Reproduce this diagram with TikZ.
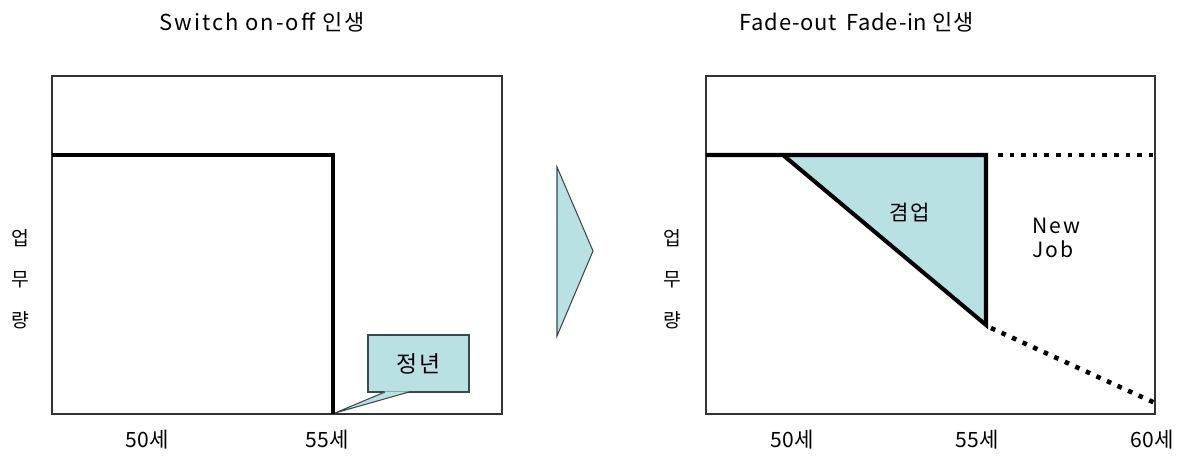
\documentclass[tikz,border=0pt]{standalone}
\usepackage{fontspec}
\setmainfont{Noto Sans CJK KR}
\newfontfamily\widefont[LetterSpace=9]{Noto Sans CJK KR}
\newfontfamily\midfont[LetterSpace=3]{Noto Sans CJK KR}
\usepackage{xcolor}
\usetikzlibrary{positioning,calc}
\definecolor{ink}{HTML}{000000}
\definecolor{frame}{HTML}{333333}
\definecolor{paleteal}{HTML}{B9E0E3}
\definecolor{tealedge}{HTML}{3A4A4C}
\tikzset{
  plotframe/.style={draw=frame,line width=0.6pt},
  workline/.style={draw=ink,line width=2.3pt,line join=miter},
  dotline/.style={draw=ink,line width=2.6pt,dash pattern=on 2.6pt off 4pt},
  titletext/.style={font=\widefont\fontsize{12.5}{14}\selectfont,inner sep=0pt},
  agetext/.style={font=\fontsize{12}{14}\selectfont,inner sep=0pt},
  axistext/.style={font=\fontsize{11}{13}\selectfont,inner sep=0pt},
  bubble/.style={draw=tealedge,fill=paleteal,line width=0.6pt,
                 minimum width=2.02cm,minimum height=1.14cm,inner sep=0pt,
                 font=\widefont\fontsize{13}{15}\selectfont}
}
\begin{document}
\begin{tikzpicture}[x=0.02cm,y=-0.02cm]
  \useasboundingbox (0,0) rectangle (1181,462);

  % Left chart
  \node[titletext] (ttl1) at (262,22) {Switch on-off 인생};
  \draw[plotframe] (52,76) rectangle (502,414);
  \draw[workline] (52,155) -- (333,155) -- (333,414);
  \node[axistext] (y1a) at (20,238) {업};
  \node[axistext] (y1b) at (20,280) {무};
  \node[axistext] (y1c) at (20,320) {량};
  \node[agetext] (a150) at (147,440) {50세};
  \node[agetext] (a155) at (327,440) {55세};

  % Callout
  \node[bubble] (teen) at (418.5,363.5) {정년};
  \coordinate (tip) at (335,413);
  \fill[paleteal] (385,391.5) -- (tip) -- (409,391.5) -- cycle;
  \draw[tealedge,line width=0.6pt] (385,392) -- (tip) -- (409,392);

  % Arrow between charts
  \draw[tealedge,fill=paleteal,line width=0.6pt] (557,167) -- (593,251) -- (557,336) -- cycle;

  % Right chart
  \node[titletext,font=\midfont\fontsize{12.5}{14}\selectfont] (ttl2) at (857,22) {Fade-out\hspace{0.45em}Fade-in 인생};
  \draw[plotframe] (706,76) rectangle (1155,414);
  \fill[paleteal] (783,155) -- (986,155) -- (986,325) -- cycle;
  \draw[workline] (706,155) -- (986,155) -- (986,325) -- (783,155);
  \draw[dotline] (998,155) -- (1155,155);
  \draw[dotline] (991,328) -- (1155,403);
  \node[font=\widefont\fontsize{12}{14}\selectfont] (side) at (910,212) {겸업};
  \node[font=\widefont\fontsize{12}{14}\selectfont,align=left,anchor=west,inner sep=0pt] (newjob) at (1032,238) {New\\Job};
  \node[axistext] (y2a) at (672,238) {업};
  \node[axistext] (y2b) at (672,280) {무};
  \node[axistext] (y2c) at (672,320) {량};
  \node[agetext] (a250) at (792,440) {50세};
  \node[agetext] (a255) at (977,440) {55세};
  \node[agetext] (a260) at (1152,440) {60세};
\end{tikzpicture}
\end{document}
